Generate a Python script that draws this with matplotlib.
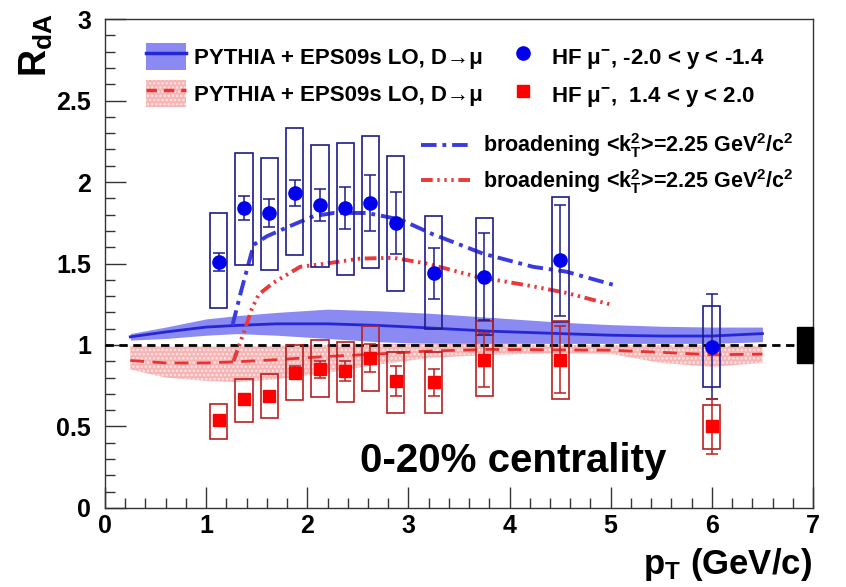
import matplotlib
matplotlib.use('Agg')
import matplotlib.pyplot as plt
from matplotlib.patches import Rectangle, Patch
from matplotlib.lines import Line2D
from matplotlib.ticker import MultipleLocator

plt.rcParams['font.family'] = ['Liberation Sans', 'DejaVu Sans']
plt.rcParams['font.weight'] = 'bold'
plt.rcParams['mathtext.fontset'] = 'custom'
plt.rcParams['mathtext.rm'] = 'Liberation Sans:bold'
plt.rcParams['mathtext.it'] = 'Liberation Sans:bold'
plt.rcParams['mathtext.bf'] = 'Liberation Sans:bold'
plt.rcParams['hatch.linewidth'] = 1.2

# HF muon R_dA, 0-20% centrality
pt_bins = [1.125, 1.375, 1.625, 1.875, 2.125, 2.375, 2.625, 2.875, 3.25, 3.75, 4.5, 6.0]

bwd_rda = [1.51, 1.84, 1.81, 1.93, 1.86, 1.84, 1.87, 1.75, 1.44, 1.42, 1.52, 0.99]
bwd_stat = [0.055, 0.075, 0.085, 0.08, 0.10, 0.13, 0.17, 0.19, 0.155, 0.265, 0.34, 0.32]
bwd_sys_hi = [1.81, 2.18, 2.15, 2.33, 2.23, 2.24, 2.28, 2.16, 1.79, 1.78, 1.91, 1.24]
bwd_sys_lo = [1.23, 1.49, 1.46, 1.55, 1.48, 1.43, 1.47, 1.33, 1.10, 1.06, 1.14, 0.74]

fwd_rda = [0.54, 0.67, 0.69, 0.83, 0.85, 0.84, 0.92, 0.78, 0.77, 0.91, 0.91, 0.50]
fwd_stat = [0.03, 0.03, 0.03, 0.04, 0.05, 0.06, 0.085, 0.09, 0.085, 0.165, 0.205, 0.17]
fwd_sys_hi = [0.635, 0.79, 0.82, 1.00, 1.03, 1.02, 1.115, 0.96, 0.955, 1.15, 1.145, 0.63]
fwd_sys_lo = [0.425, 0.53, 0.555, 0.665, 0.68, 0.65, 0.72, 0.585, 0.585, 0.685, 0.67, 0.36]

# PYTHIA + EPS09s LO bands
band_pt = [0.25, 0.6, 1.0, 1.3, 1.7, 2.2, 2.7, 3.2, 3.8, 4.5, 5.0, 5.5, 6.0, 6.5]
bwd_center = [1.05, 1.08, 1.11, 1.12, 1.13, 1.13, 1.12, 1.105, 1.085, 1.07, 1.06, 1.055, 1.055, 1.07]
bwd_upper = [1.07, 1.11, 1.16, 1.18, 1.20, 1.22, 1.21, 1.195, 1.17, 1.14, 1.125, 1.115, 1.11, 1.11]
bwd_lower = [1.03, 1.04, 1.06, 1.07, 1.06, 1.04, 1.02, 1.01, 1.01, 1.01, 1.01, 1.01, 1.01, 1.02]
fwd_center = [0.905, 0.89, 0.89, 0.897, 0.91, 0.93, 0.945, 0.963, 0.973, 0.97, 0.968, 0.955, 0.94, 0.944]
fwd_upper = [0.995, 0.99, 0.99, 0.99, 0.995, 1.0, 1.005, 1.01, 1.005, 1.0, 1.0, 1.0, 0.998, 0.994]
fwd_lower = [0.85, 0.80, 0.78, 0.773, 0.79, 0.83, 0.88, 0.92, 0.94, 0.95, 0.945, 0.89, 0.866, 0.89]

# kT broadening curves
bwd_kt_pt = [1.26, 1.35, 1.47, 1.6, 1.83, 2.06, 2.26, 2.59, 2.92, 3.24, 3.74, 4.23, 4.56, 5.02]
bwd_kt = [1.12, 1.34, 1.615, 1.667, 1.73, 1.79, 1.81, 1.81, 1.77, 1.68, 1.56, 1.48, 1.45, 1.37]
fwd_kt_pt = [1.27, 1.38, 1.45, 1.52, 1.66, 1.93, 2.19, 2.52, 2.85, 3.18, 3.67, 4.23, 4.56, 4.99]
fwd_kt = [0.90, 1.09, 1.22, 1.31, 1.38, 1.48, 1.50, 1.53, 1.535, 1.50, 1.42, 1.36, 1.32, 1.25]

norm_unc = 0.11

blue = '#0000ee'
navy = '#1c1c8a'
red = '#ff0000'
darkred = '#b82020'
blue_band = '#8a8af2'
red_band = '#f6b4b4'
bwd_ls = (0, (4, 1.5, 1, 1.5))
fwd_ls = (0, (3, 1.2, 0.6, 1.2, 0.6, 1.2, 0.6, 1.2))

fig = plt.figure(figsize=(8.46, 5.87), dpi=100)
ax = fig.add_axes([0.1241, 0.1346, 0.8369, 0.833])

# model bands
ax.fill_between(band_pt, bwd_lower, bwd_upper, color=blue_band, lw=0, zorder=1)
ax.plot(band_pt, bwd_center, color='#2626d6', lw=2, zorder=2)
ax.fill_between(band_pt, fwd_lower, fwd_upper, facecolor=red_band, edgecolor='#fde6e6',
                hatch='....', lw=0, zorder=1)
ax.plot(band_pt, fwd_center, color='#ee3030', lw=2, ls=(0, (5, 3)), zorder=2)

ax.axhline(1.0, color='black', lw=2, ls=(0, (3, 2)), zorder=3)

ax.plot(bwd_kt_pt, bwd_kt, color='#3a3ae0', lw=2.8, ls=bwd_ls, zorder=3)
ax.plot(fwd_kt_pt, fwd_kt, color='#e83a3a', lw=2.8, ls=fwd_ls, zorder=3)

# systematic boxes
hw = 0.085
for x, lo, hi in zip(pt_bins, bwd_sys_lo, bwd_sys_hi):
    ax.add_patch(Rectangle((x - hw, lo), 2 * hw, hi - lo, fill=False,
                           edgecolor=navy, lw=1.2, zorder=4))
for x, lo, hi in zip(pt_bins, fwd_sys_lo, fwd_sys_hi):
    ax.add_patch(Rectangle((x - hw, lo), 2 * hw, hi - lo, fill=False,
                           edgecolor=darkred, lw=1.2, zorder=4))

ax.errorbar(pt_bins, bwd_rda, yerr=bwd_stat, fmt='o', color=blue, ecolor=navy,
            ms=9.5, elinewidth=1.1, capsize=4, capthick=1.1, zorder=5)
ax.errorbar(pt_bins, fwd_rda, yerr=fwd_stat, fmt='s', color=red, ecolor=darkred,
            ms=8.5, elinewidth=1.1, capsize=4, capthick=1.1, zorder=5)

# global normalisation uncertainty
ax.add_patch(Rectangle((6.84, 1 - norm_unc), 0.16, 2 * norm_unc, color='black',
                       clip_on=False, zorder=6))

ax.set_xlim(0, 7)
ax.set_ylim(0, 3)
ax.xaxis.set_major_locator(MultipleLocator(1))
ax.xaxis.set_minor_locator(MultipleLocator(0.2))
ax.yaxis.set_major_locator(MultipleLocator(0.5))
ax.yaxis.set_minor_locator(MultipleLocator(0.1))
ax.set_xticks(range(8))
ax.set_xticklabels([str(i) for i in range(8)])
ax.set_yticks([0, 0.5, 1, 1.5, 2, 2.5, 3])
ax.set_yticklabels(['0', '0.5', '1', '1.5', '2', '2.5', '3'])
ax.tick_params(which='both', direction='in', top=False, right=False, colors='#333333',
               labelcolor='black', labelsize=18, width=1)
ax.tick_params(which='major', length=15)
ax.tick_params(which='minor', length=7.5)
ax.tick_params(axis='x', pad=4)
ax.tick_params(axis='y', pad=10)
for s in ax.spines.values():
    s.set_color('#333333')
    s.set_linewidth(1)

fig.text(0.043, 0.978, r'$\mathregular{R_{dA}}$', rotation=90, fontsize=27,
         ha='center', va='top')
fig.text(0.96, 0.006, r'$\mathregular{p_{T}}$ (GeV/c)', fontsize=25, ha='right', va='bottom')

ax.text(4.04, 0.29, '0-20% centrality', fontsize=29, ha='center', va='center')

# legends
band_b = (Patch(facecolor=blue_band, lw=0), Line2D([], [], color='#2626d6', lw=2.5))
band_f = (Patch(facecolor=red_band, edgecolor='#fde6e6', hatch='....', lw=0),
          Line2D([], [], color='#ee3030', lw=2.5, ls=(0, (3, 2))))
pt_b = Line2D([], [], marker='o', ls='none', color=blue, ms=9.5)
pt_f = Line2D([], [], marker='s', ls='none', color=red, ms=8.5)
model_label = 'PYTHIA + EPS09s LO, D→μ'
leg1 = ax.legend([band_b, band_f, pt_b, pt_f],
                 [model_label, model_label,
                  r'HF μ$\mathregular{^{-}}$, -2.0 < y < -1.4',
                  r'HF μ$\mathregular{^{-}}$,  1.4 < y < 2.0'],
                 ncol=2, loc='upper left', bbox_to_anchor=(0.03, 0.992), frameon=False,
                 fontsize=16, handlelength=1.8, handleheight=1.5, labelspacing=0.45,
                 columnspacing=0.9, handletextpad=0.35)
ax.add_artist(leg1)

kt_label = r'broadening <k$\mathregular{_{T}^{2}}$>=2.25 GeV$\mathregular{^{2}}$/c$\mathregular{^{2}}$'
kt_b = Line2D([], [], color='#3a3ae0', lw=2.8, ls=bwd_ls)
kt_f = Line2D([], [], color='#e83a3a', lw=2.8, ls=fwd_ls)
ax.legend([kt_b, kt_f], [kt_label, kt_label], loc='upper right',
          bbox_to_anchor=(1.0, 0.81), frameon=False, fontsize=15.5,
          handlelength=2.4, labelspacing=0.3, handletextpad=0.5)

fig.savefig('out.png', dpi=100)
